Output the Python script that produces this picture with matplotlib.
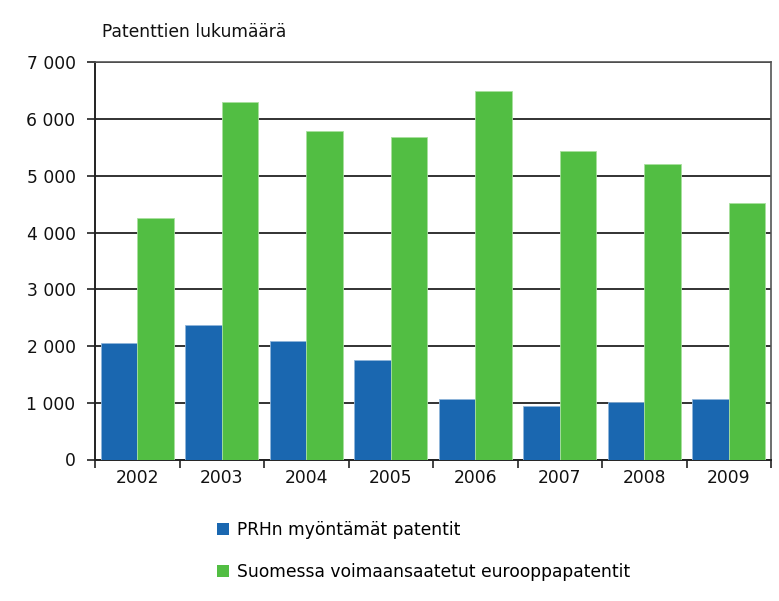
import matplotlib
matplotlib.use("Agg")
import matplotlib.pyplot as plt
from matplotlib.patches import Patch
from matplotlib.ticker import FuncFormatter, FixedLocator
import numpy as np

years = ["2002", "2003", "2004", "2005", "2006", "2007", "2008", "2009"]
prh = [2060, 2375, 2095, 1755, 1075, 935, 1020, 1075]
euro = [4260, 6300, 5790, 5680, 6490, 5440, 5210, 4520]
series_names = ["PRHn myöntämät patentit", "Suomessa voimaansaatetut eurooppapatentit"]
y_title = "Patenttien lukumäärä"

blue = "#1a67b0"
green = "#52be43"

plt.rcParams['font.family'] = ['DejaVu Sans']
FS = 12.3

W, H = 779, 601
fig = plt.figure(figsize=(W / 100, H / 100), dpi=100)
fig.patch.set_facecolor("white")
left, right, top, bottom = 95, 771, 62.3, 459.5
ax = fig.add_axes([left / W, (H - bottom) / H, (right - left) / W, (bottom - top) / H])

x = np.arange(len(years))
bw = 0.43
ax.bar(x - bw / 2, prh, width=bw, color=blue, edgecolor="#8fb5da", linewidth=0.6, zorder=3)
ax.bar(x + bw / 2, euro, width=bw, color=green, edgecolor="#a8e09e", linewidth=0.6, zorder=3)

ax.set_xlim(-0.5, len(years) - 0.5)
ax.set_ylim(0, 7000)
ax.set_yticks(np.arange(0, 7001, 1000))
ax.yaxis.set_major_formatter(FuncFormatter(lambda v, p: f"{int(v):,}".replace(",", " ")))
ax.yaxis.grid(True, color="#222222", linewidth=1.3, zorder=1)
ax.set_axisbelow(True)

ax.xaxis.set_major_locator(FixedLocator(np.arange(-0.5, len(years), 1.0)))
ax.xaxis.set_major_formatter(FuncFormatter(lambda v, p: ""))
ax.xaxis.set_minor_locator(FixedLocator(x))
ax.set_xticklabels(years, minor=True)
ax.tick_params(axis="x", which="minor", length=0, pad=7, labelsize=FS, colors="#111111")
ax.tick_params(axis="x", which="major", length=6, width=1.2, direction="out", color="#222222")
ax.tick_params(axis="y", length=6, width=1.2, direction="out", color="#222222",
               labelsize=FS, pad=8, labelcolor="#111111")

for s in ["left", "bottom"]:
    ax.spines[s].set_color("#222222")
    ax.spines[s].set_linewidth(1.4)
for s in ["top", "right"]:
    ax.spines[s].set_color("#555555")
    ax.spines[s].set_linewidth(1.2)

fig.text(102 / W, 1 - 32 / H, y_title, fontsize=FS, ha="left", va="center", color="#111111")

handles = [Patch(facecolor=blue, edgecolor="none"), Patch(facecolor=green, edgecolor="none")]
fig.legend(handles, series_names, loc="upper left", bbox_to_anchor=(217 / W, 1 - 521 / H),
           frameon=False, fontsize=FS, handlelength=0.7, handleheight=0.7,
           handletextpad=0.45, labelspacing=1.4, borderaxespad=0, borderpad=0)

fig.savefig("out.png", dpi=100, facecolor="white")
